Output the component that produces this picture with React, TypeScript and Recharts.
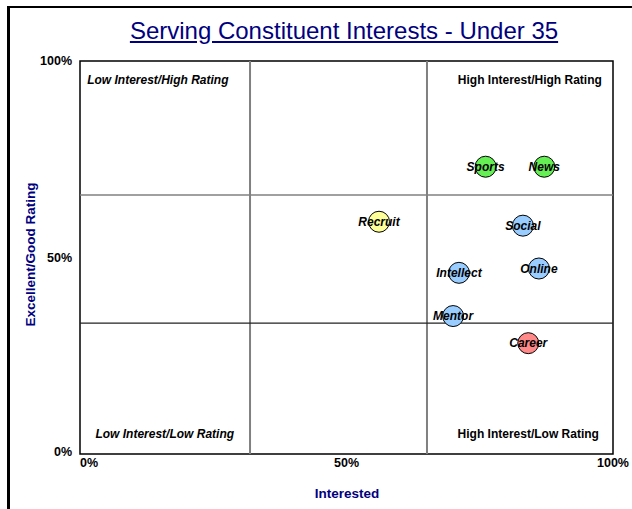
import {
  ScatterChart,
  Scatter,
  XAxis,
  YAxis,
  ReferenceLine,
  ReferenceArea,
  ReferenceDot,
  LabelList,
  Cell,
} from "recharts";

const NAMES = ["Sports", "News", "Recruit", "Social", "Intellect", "Online", "Mentor", "Career"];
const INTEREST = [76.1, 87.1, 56.1, 83.1, 71.1, 86.1, 70.0, 84.1];
const RATING = [73.1, 73.1, 59.1, 58.1, 46.1, 47.2, 35.1, 28.2];
const COLORS = ["#66ee55", "#66ee55", "#ffff99", "#99ccff", "#99ccff", "#99ccff", "#99ccff", "#ff8888"];

const TICKS = [0, 50, 100];
const X_SPLITS = [31.9, 65.1];
const Y_SPLITS = [33.3, 65.9];

const QUADRANTS = [
  { text: "Low Interest/High Rating", x: 14.6, y: 95.2, italic: true },
  { text: "High Interest/High Rating", x: 84.4, y: 95.2, italic: false },
  { text: "Low Interest/Low Rating", x: 15.9, y: 5.1, italic: true },
  { text: "High Interest/Low Rating", x: 84.1, y: 5.1, italic: false },
];

const FONT = "'Liberation Sans', Arial, sans-serif";
const NAVY = "#000080";

const data = NAMES.map((name, i) => ({ name, x: INTEREST[i], y: RATING[i] }));

const XTick = ({ x, y, payload }: any) => (
  <text
    x={x}
    y={y + 5}
    textAnchor={payload.value === 0 ? "start" : "middle"}
    fontFamily={FONT}
    fontSize={12.5}
    fontWeight="bold"
    fill="#000"
  >
    {payload.value}%
  </text>
);

const YTick = ({ x, y, payload }: any) => (
  <text x={x} y={y + (payload.value === 0 ? 2 : 4)} textAnchor="end" fontFamily={FONT} fontSize={12.5} fontWeight="bold" fill="#000">
    {payload.value}%
  </text>
);

const Dot = ({ cx, cy, fill }: any) => (
  <circle cx={cx} cy={cy} r={10.5} fill={fill} stroke="#000" strokeWidth={1} />
);

const PointLabel = ({ x, y, width, height, value }: any) => (
  <text
    x={x + width / 2}
    y={y + height / 2 + 4}
    textAnchor="middle"
    fontFamily={FONT}
    fontSize={12}
    fontWeight="bold"
    fontStyle="italic"
    fill="#000"
  >
    {value}
  </text>
);

export default function App() {
  return (
    <div style={{ position: "absolute", left: 0, top: 0, width: 632, height: 509, background: "#fff" }}>
      <div
        style={{
          position: "absolute",
          left: 7,
          top: 6,
          width: 625,
          height: 503,
          borderTop: "2px solid #000",
          borderLeft: "3px solid #000",
          boxSizing: "border-box",
        }}
      />
      <div
        style={{
          position: "absolute",
          left: 0,
          width: 632,
          top: 17,
          paddingLeft: 56,
          boxSizing: "border-box",
          textAlign: "center",
          fontFamily: FONT,
          fontSize: 24,
          color: NAVY,
          textDecoration: "underline",
        }}
      >
        Serving Constituent Interests - Under 35
      </div>
      <div
        style={{
          position: "absolute",
          left: 347 - 100,
          width: 200,
          top: 486,
          textAlign: "center",
          fontFamily: FONT,
          fontSize: 13.5,
          fontWeight: "bold",
          color: NAVY,
        }}
      >
        Interested
      </div>
      <div
        style={{
          position: "absolute",
          left: 30 - 100,
          top: 256 - 9,
          width: 200,
          textAlign: "center",
          transform: "rotate(-90deg)",
          fontFamily: FONT,
          fontSize: 13.5,
          fontWeight: "bold",
          color: NAVY,
        }}
      >
        Excellent/Good Rating
      </div>
      <div style={{ position: "absolute", left: 0, top: 0 }}>
        <ScatterChart width={632} height={509} margin={{ top: 61, right: 19, left: 0, bottom: 0 }}>
          <XAxis
            type="number"
            dataKey="x"
            domain={[0, 100]}
            ticks={TICKS}
            axisLine={false}
            tickLine={false}
            height={55}
            tick={<XTick />}
          />
          <YAxis
            type="number"
            dataKey="y"
            domain={[0, 100]}
            ticks={TICKS}
            axisLine={false}
            tickLine={false}
            width={80}
            tick={<YTick />}
          />
          <ReferenceArea x1={0} x2={100} y1={0} y2={100} fill="none" stroke="#000" strokeWidth={1.5} fillOpacity={0} />
          {X_SPLITS.map((v) => (
            <ReferenceLine key={"x" + v} x={v} stroke="#808080" strokeWidth={2} />
          ))}
          <ReferenceLine y={Y_SPLITS[0]} stroke="#222" strokeWidth={1.2} />
          <ReferenceLine y={Y_SPLITS[1]} stroke="#808080" strokeWidth={1.5} />
          {QUADRANTS.map((q) => (
            <ReferenceDot
              key={q.text}
              x={q.x}
              y={q.y}
              r={0}
              stroke="none"
              fill="none"
              label={({ viewBox }: any) => (
                <text
                  x={viewBox.x + viewBox.width / 2}
                  y={viewBox.y + viewBox.height / 2 + 4}
                  textAnchor="middle"
                  fontFamily={FONT}
                  fontSize={12}
                  fontWeight="bold"
                  fontStyle={q.italic ? "italic" : "normal"}
                  fill="#000"
                >
                  {q.text}
                </text>
              )}
            />
          ))}
          <Scatter data={data} shape={<Dot />} isAnimationActive={false}>
            {data.map((d, i) => (
              <Cell key={d.name} fill={COLORS[i]} />
            ))}
            <LabelList dataKey="name" content={<PointLabel />} />
          </Scatter>
        </ScatterChart>
      </div>
    </div>
  );
}
